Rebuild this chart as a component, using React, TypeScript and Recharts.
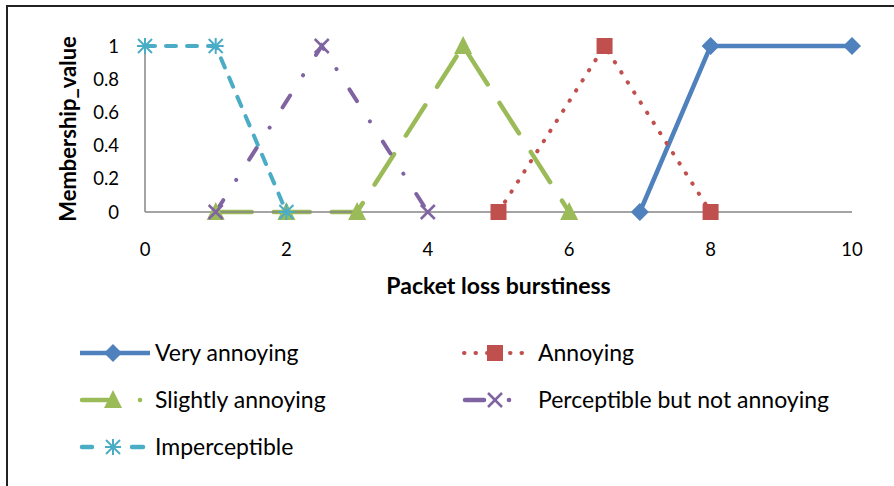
import React from 'react';
import { LineChart, Line, XAxis, YAxis, Legend } from 'recharts';

// membership functions
const veryAnnoyingX = [7, 8, 10];
const veryAnnoyingY = [0, 1, 1];
const annoyingX = [5, 6.5, 8];
const annoyingY = [0, 1, 0];
const slightlyX = [1, 2, 3, 4.5, 6];
const slightlyY = [0, 0, 0, 1, 0];
const perceptibleX = [1, 2.5, 4];
const perceptibleY = [0, 1, 0];
const imperceptibleX = [0, 1, 2];
const imperceptibleY = [1, 1, 0];

const xTicks = [0, 2, 4, 6, 8, 10];
const yTicks = [0, 0.2, 0.4, 0.6, 0.8, 1];

const seriesNames = [
  'Very annoying',
  'Annoying',
  'Slightly annoying',
  'Perceptible but not annoying',
  'Imperceptible',
];

const BLUE = '#4F81BD';
const RED = '#C0504D';
const GREEN = '#9BBB59';
const PURPLE = '#8064A2';
const CYAN = '#4BACC6';

const FONT = 'Lato, "Open Sans", sans-serif';

const toPoints = (xs: number[], ys: number[]) => xs.map((x, i) => ({ x, y: ys[i] }));

const Diamond = ({ cx, cy }: { cx: number; cy: number }) => (
  <polygon points={`${cx},${cy - 9} ${cx + 9},${cy} ${cx},${cy + 9} ${cx - 9},${cy}`} fill={BLUE} />
);
const Square = ({ cx, cy }: { cx: number; cy: number }) => (
  <rect x={cx - 8} y={cy - 8} width={16} height={16} fill={RED} />
);
const Triangle = ({ cx, cy }: { cx: number; cy: number }) => (
  <polygon points={`${cx},${cy - 10} ${cx + 9},${cy + 8} ${cx - 9},${cy + 8}`} fill={GREEN} />
);
const Cross = ({ cx, cy }: { cx: number; cy: number }) => (
  <g stroke={PURPLE} strokeWidth={2.5}>
    <line x1={cx - 7} y1={cy - 7} x2={cx + 7} y2={cy + 7} />
    <line x1={cx - 7} y1={cy + 7} x2={cx + 7} y2={cy - 7} />
  </g>
);
const Star = ({ cx, cy }: { cx: number; cy: number }) => (
  <g stroke={CYAN} strokeWidth={2}>
    <line x1={cx - 7} y1={cy - 7} x2={cx + 7} y2={cy + 7} />
    <line x1={cx - 7} y1={cy + 7} x2={cx + 7} y2={cy - 7} />
    <line x1={cx} y1={cy - 8} x2={cx} y2={cy + 8} />
    <line x1={cx - 8} y1={cy} x2={cx + 8} y2={cy} />
  </g>
);

const markerDot = (Shape: React.FC<{ cx: number; cy: number }>) => (p: any) => (
  <Shape key={`m-${p.index}`} cx={p.cx} cy={p.cy} />
);

const LegendBlock = () => {
  const col1 = 80;
  const col2 = 462;
  const rows = [23, 70, 117];
  const textStyle = { fontFamily: FONT, fontSize: 23, fill: '#000' };
  return (
    <svg width={894} height={140}>
      {/* Very annoying */}
      <line x1={col1} y1={rows[0]} x2={col1 + 70} y2={rows[0]} stroke={BLUE} strokeWidth={4.5} />
      <Diamond cx={col1 + 33} cy={rows[0]} />
      <text x={155} y={rows[0] + 8} style={textStyle}>{seriesNames[0]}</text>
      {/* Annoying */}
      <line x1={col2 + 2} y1={rows[0]} x2={col2 + 68} y2={rows[0]} stroke={RED} strokeWidth={4}
        strokeDasharray="0.5 11" strokeLinecap="round" />
      <Square cx={col2 + 33} cy={rows[0]} />
      <text x={538} y={rows[0] + 8} style={textStyle}>{seriesNames[1]}</text>
      {/* Slightly annoying */}
      <line x1={col1 + 2} y1={rows[1]} x2={col1 + 28} y2={rows[1]} stroke={GREEN} strokeWidth={4.5} strokeLinecap="round" />
      <Triangle cx={col1 + 33} cy={rows[1]} />
      <circle cx={col1 + 60} cy={rows[1]} r={2.3} fill={GREEN} />
      <text x={155} y={rows[1] + 8} style={textStyle}>{seriesNames[2]}</text>
      {/* Perceptible */}
      <line x1={col2 + 3} y1={rows[1]} x2={col2 + 22} y2={rows[1]} stroke={PURPLE} strokeWidth={4.5} strokeLinecap="round" />
      <Cross cx={col2 + 33} cy={rows[1]} />
      <circle cx={col2 + 47} cy={rows[1]} r={2.3} fill={PURPLE} />
      <text x={538} y={rows[1] + 8} style={textStyle}>{seriesNames[3]}</text>
      {/* Imperceptible */}
      <line x1={col1 + 2} y1={rows[2]} x2={col1 + 12} y2={rows[2]} stroke={CYAN} strokeWidth={4.5} strokeLinecap="round" />
      <Star cx={col1 + 33} cy={rows[2]} />
      <line x1={col1 + 52} y1={rows[2]} x2={col1 + 63} y2={rows[2]} stroke={CYAN} strokeWidth={4.5} strokeLinecap="round" />
      <text x={155} y={rows[2] + 8} style={textStyle}>{seriesNames[4]}</text>
    </svg>
  );
};

const YTitle = (p: any) => {
  const vb = p.viewBox || { x: 0, y: 46, height: 166 };
  const cx = 67;
  const cy = vb.y + vb.height / 2;
  return (
    <text x={cx} y={cy} transform={`rotate(-90 ${cx} ${cy})`} textAnchor="middle" dominantBaseline="central"
      style={{ fontFamily: FONT, fontSize: 22, fontWeight: 700, fill: '#000' }}>
      Membership_value
    </text>
  );
};

const App: React.FC = () => {
  const tickStyle = { fontFamily: FONT, fontSize: 18.5, fill: '#000' };
  return (
    <div style={{ position: 'absolute', left: 0, top: 0, width: 894, height: 486, background: '#fff', overflow: 'hidden' }}>
      <div style={{ position: 'absolute', left: 6, top: 5, width: 1000, height: 600, borderTop: '2px solid #222', borderLeft: '2px solid #222' }} />
      <div style={{ position: 'absolute', left: 0, top: 0 }}>
        <LineChart width={894} height={486} margin={{ top: 46, right: 42, left: 0, bottom: 184 }}>
          <XAxis
            dataKey="x"
            type="number"
            domain={[0, 10]}
            ticks={xTicks}
            height={90}
            axisLine={{ stroke: '#868686', strokeWidth: 1.5 }}
            tickLine={false}
            tickSize={0}
            tickMargin={31}
            tick={tickStyle}
            label={{ value: 'Packet loss burstiness', position: 'insideBottom', offset: 8,
              style: { fontFamily: FONT, fontSize: 23, fontWeight: 700, fill: '#000' } }}
          />
          <YAxis
            type="number"
            domain={[0, 1]}
            ticks={yTicks}
            width={145}
            axisLine={{ stroke: '#868686', strokeWidth: 1.5 }}
            tickLine={false}
            tickSize={0}
            tickMargin={26}
            tick={tickStyle}
            label={{ content: YTitle }}
          />
          <Legend layout="horizontal" verticalAlign="middle" align="center"
            wrapperStyle={{ left: 0, top: 330, width: 894, height: 140 }}
            content={() => <LegendBlock />} />
          <Line data={toPoints(veryAnnoyingX, veryAnnoyingY)} dataKey="y" name={seriesNames[0]}
            stroke={BLUE} strokeWidth={4.5} dot={markerDot(Diamond)} activeDot={false} isAnimationActive={false} />
          <Line data={toPoints(annoyingX, annoyingY)} dataKey="y" name={seriesNames[1]}
            stroke={RED} strokeWidth={4} strokeDasharray="0.5 11.5" strokeLinecap="round"
            dot={markerDot(Square)} activeDot={false} isAnimationActive={false} />
          <Line data={toPoints(slightlyX, slightlyY)} dataKey="y" name={seriesNames[2]}
            stroke={GREEN} strokeWidth={4.5} strokeDasharray="36 22" strokeLinecap="round"
            dot={markerDot(Triangle)} activeDot={false} isAnimationActive={false} />
          <Line data={toPoints(perceptibleX, perceptibleY)} dataKey="y" name={seriesNames[3]}
            stroke={PURPLE} strokeWidth={4} strokeDasharray="14 24 0.1 24" strokeLinecap="round"
            dot={markerDot(Cross)} activeDot={false} isAnimationActive={false} />
          <Line data={toPoints(imperceptibleX, imperceptibleY)} dataKey="y" name={seriesNames[4]}
            stroke={CYAN} strokeWidth={4} strokeDasharray="10 11" strokeLinecap="round"
            dot={markerDot(Star)} activeDot={false} isAnimationActive={false} />
        </LineChart>
      </div>
    </div>
  );
};

export default App;
